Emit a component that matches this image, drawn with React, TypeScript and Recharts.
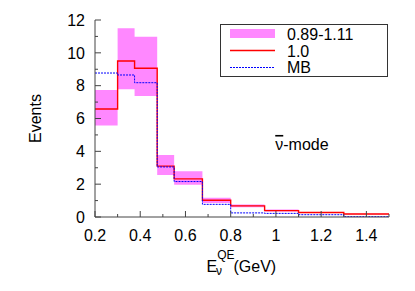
import React from "react";
import {
  ComposedChart,
  Line,
  Area,
  XAxis,
  YAxis,
  ReferenceDot,
} from "recharts";

// Bin edges in GeV (last edge repeats the last bin value for step drawing)
const binEdges = [0.2, 0.3, 0.375, 0.475, 0.55, 0.675, 0.8, 0.95, 1.1, 1.3, 1.5];
const central = [6.58, 9.5, 9.06, 3.1, 2.32, 1.02, 0.68, 0.39, 0.27, 0.18];
const bandLow = [5.58, 7.78, 7.37, 2.56, 1.96, 0.86, 0.6, 0.34, 0.24, 0.16];
const bandHigh = [7.73, 11.49, 10.98, 3.78, 2.78, 1.17, 0.76, 0.45, 0.31, 0.2];
const mb = [8.77, 8.65, 8.18, 3.05, 2.16, 0.77, 0.25, 0.22, 0.14, 0.02];

const xMajorTicks = [0.2, 0.4, 0.6, 0.8, 1.0, 1.2, 1.4];
const xMinorTicks = [0.3, 0.5, 0.7, 0.9, 1.1, 1.3, 1.5];
const yMajorTicks = [0, 2, 4, 6, 8, 10, 12];
const yMinorTicks = [1, 3, 5, 7, 9, 11];

const legendLabels = ["0.89-1.11", "1.0", "MB"];
const modeNu = "\u03BD";
const modeRest = "-mode";

const data = binEdges.map((x, i) => {
  const j = Math.min(i, central.length - 1);
  return {
    x,
    central: central[j],
    band: [bandLow[j], bandHigh[j]],
    mb: mb[j],
  };
});

const FONT = "'Liberation Sans', Arial, Helvetica, sans-serif";
const AXIS_COLOR = "#444";
const PINK = "#ff88ff";

const fmtX = (v: number) => (Math.abs(v - 1) < 1e-9 ? "1" : v.toFixed(1));

const isMajor = (v: number, majors: number[]) =>
  majors.some((m) => Math.abs(m - v) < 1e-9);

const BottomTick = (props: any) => {
  const { x, y, payload } = props;
  const major = isMajor(payload.value, xMajorTicks);
  const axisY = y;
  const len = major ? 6 : 3;
  return (
    <g>
      <line x1={x} x2={x} y1={axisY} y2={axisY - len} stroke={AXIS_COLOR} strokeWidth={1} />
      {major && (
        <text x={x} y={axisY + 24} textAnchor="middle" fontSize={16} fontFamily={FONT} fill="#000">
          {fmtX(payload.value)}
        </text>
      )}
    </g>
  );
};

const TopTick = (props: any) => {
  const { x, y, payload } = props;
  const major = isMajor(payload.value, xMajorTicks);
  const len = major ? 6 : 3;
  return <line x1={x} x2={x} y1={y} y2={y + len} stroke={AXIS_COLOR} strokeWidth={1} />;
};

const LeftTick = (props: any) => {
  const { x, y, payload } = props;
  const major = isMajor(payload.value, yMajorTicks);
  const len = major ? 6 : 3;
  return (
    <g>
      <line x1={x} x2={x + len} y1={y} y2={y} stroke={AXIS_COLOR} strokeWidth={1} />
      {major && (
        <text x={x - 10} y={y} dy="0.36em" textAnchor="end" fontSize={16} fontFamily={FONT} fill="#000">
          {payload.value}
        </text>
      )}
    </g>
  );
};

const RightTick = (props: any) => {
  const { x, y, payload } = props;
  const major = isMajor(payload.value, yMajorTicks);
  const len = major ? 6 : 3;
  return <line x1={x} x2={x - len} y1={y} y2={y} stroke={AXIS_COLOR} strokeWidth={1} />;
};

const XLabel = (props: any) => {
  const vb = props.viewBox || {};
  const cx = vb.x + vb.width / 2;
  const by = vb.y + 54.5;
  return (
    <text x={cx - 35.5} y={by} textAnchor="start" fontSize={16} fontFamily={FONT} fill="#000">
      E
      <tspan dy={-12.5} fontSize={12}>QE</tspan>
      <tspan dx={-18.5} dy={16} fontSize={12}>ν</tspan>
      <tspan dx={11.5} dy={-3.5} fontSize={16}>(GeV)</tspan>
    </text>
  );
};

const YLabel = (props: any) => {
  const vb = props.viewBox || {};
  const cx = vb.x + 35;
  const cy = vb.y + vb.height / 2;
  return (
    <text
      x={cx}
      y={cy}
      textAnchor="middle"
      dominantBaseline="central"
      fontSize={16}
      fontFamily={FONT}
      fill="#000"
      transform={`rotate(-90 ${cx} ${cy})`}
    >
      Events
    </text>
  );
};

const ModeLabel = (props: any) => {
  const vb = props.viewBox || {};
  const cx = vb.x + (vb.width || 0) / 2;
  const cy = vb.y + (vb.height || 0) / 2;
  return (
    <text x={cx} y={cy + 6} textAnchor="middle" fontSize={16} fontFamily={FONT} fill="#000">
      <tspan style={{ textDecoration: "overline" }}>{modeNu}</tspan>
      <tspan>{modeRest}</tspan>
    </text>
  );
};

const LegendBox = () => (
  <div
    style={{
      position: "absolute",
      left: 220,
      top: 24,
      width: 166,
      height: 51,
      border: "1px solid #333",
      background: "#fff",
      fontFamily: FONT,
      fontSize: 16,
      color: "#000",
    }}
  >
    <svg width={166} height={51} style={{ position: "absolute", left: 0, top: 0 }}>
      <rect x={9} y={4} width={45} height={9} fill={PINK} />
      <line x1={9} x2={54} y1={25.5} y2={25.5} stroke="#ff0000" strokeWidth={1.3} />
      <line x1={9} x2={54} y1={42.5} y2={42.5} stroke="#0000ff" strokeWidth={1} strokeDasharray="2 1" />
      <text x={66} y={14.5} fontSize={16} fontFamily={FONT}>{legendLabels[0]}</text>
      <text x={66} y={31.5} fontSize={16} fontFamily={FONT}>{legendLabels[1]}</text>
      <text x={66} y={48} fontSize={16} fontFamily={FONT}>{legendLabels[2]}</text>
    </svg>
  </div>
);

export default function App() {
  const allX = [...xMajorTicks, ...xMinorTicks].sort((a, b) => a - b);
  const allY = [...yMajorTicks, ...yMinorTicks].sort((a, b) => a - b);
  return (
    <div style={{ position: "absolute", left: 0, top: 0, width: 415, height: 291, background: "#fff" }}>
      <ComposedChart
        width={415}
        height={291}
        data={data}
        margin={{ top: 20, right: 26, bottom: 0, left: 0 }}
      >
        <XAxis
          xAxisId="b"
          dataKey="x"
          type="number"
          domain={[0.2, 1.5]}
          ticks={allX}
          interval={0}
          orientation="bottom"
          height={74}
          tickSize={0}
          tickMargin={0}
          tickLine={false}
          tick={<BottomTick />}
          axisLine={{ stroke: AXIS_COLOR }}
          allowDataOverflow
          label={<XLabel />}
        />
        <XAxis
          xAxisId="t"
          dataKey="x"
          type="number"
          domain={[0.2, 1.5]}
          ticks={allX}
          interval={0}
          orientation="top"
          height={0}
          tickSize={0}
          tickMargin={0}
          tickLine={false}
          tick={<TopTick />}
          axisLine={{ stroke: AXIS_COLOR }}
          allowDataOverflow
        />
        <YAxis
          yAxisId="l"
          type="number"
          domain={[0, 12]}
          ticks={allY}
          interval={0}
          orientation="left"
          width={95}
          tickSize={0}
          tickMargin={0}
          tickLine={false}
          tick={<LeftTick />}
          axisLine={{ stroke: AXIS_COLOR }}
          allowDataOverflow
          label={<YLabel />}
        />
        <YAxis
          yAxisId="r"
          type="number"
          domain={[0, 12]}
          ticks={allY}
          interval={0}
          orientation="right"
          width={0}
          tickSize={0}
          tickMargin={0}
          tickLine={false}
          tick={<RightTick />}
          axisLine={{ stroke: AXIS_COLOR }}
          allowDataOverflow
        />
        <Area
          xAxisId="b"
          yAxisId="l"
          type="stepAfter"
          dataKey="band"
          fill={PINK}
          fillOpacity={1}
          stroke="none"
          isAnimationActive={false}
          dot={false}
          activeDot={false}
        />
        <Line
          xAxisId="b"
          yAxisId="l"
          type="stepAfter"
          dataKey="central"
          stroke="#ff0000"
          strokeWidth={1.4}
          dot={false}
          activeDot={false}
          isAnimationActive={false}
        />
        <Line
          xAxisId="b"
          yAxisId="l"
          type="stepAfter"
          dataKey="mb"
          stroke="#0000ff"
          strokeWidth={1}
          strokeDasharray="2 1"
          dot={false}
          activeDot={false}
          isAnimationActive={false}
        />
        <ReferenceDot
          xAxisId="b"
          yAxisId="l"
          x={1.115}
          y={4.45}
          r={0}
          fill="none"
          stroke="none"
          label={<ModeLabel />}
        />
      </ComposedChart>
      <LegendBox />
    </div>
  );
}
